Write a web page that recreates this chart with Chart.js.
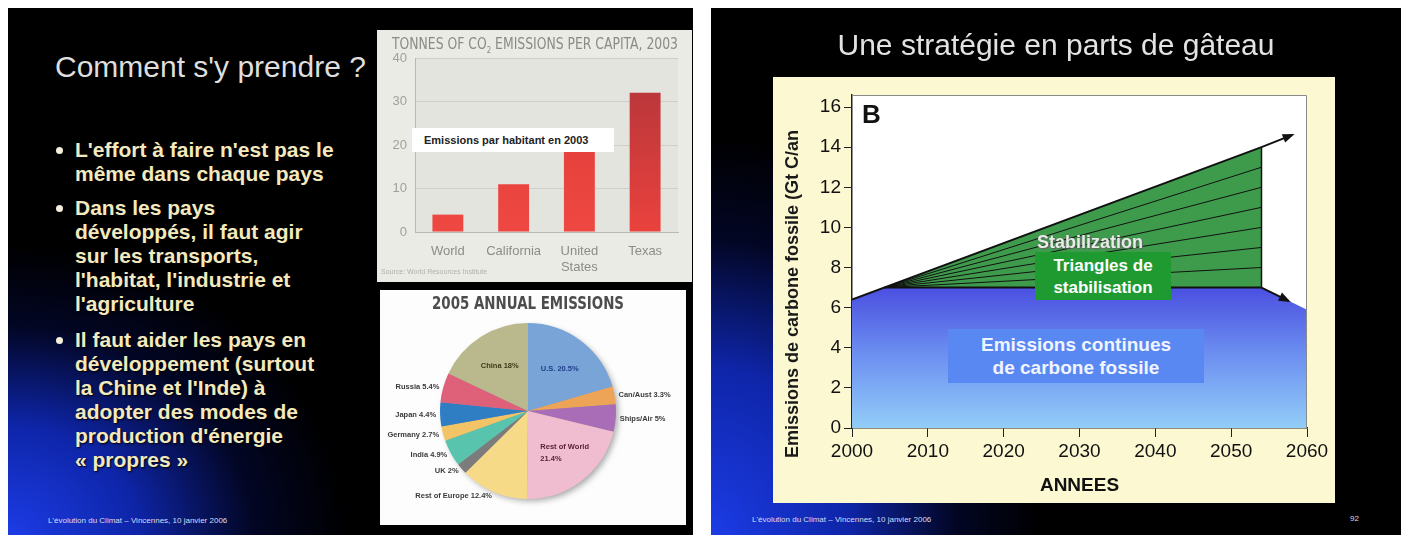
<!DOCTYPE html>
<html>
<head>
<meta charset="utf-8">
<script src="https://cdn.jsdelivr.net/npm/chart.js@4.4.1/dist/chart.umd.min.js"></script>
<style>
  body { margin: 0; width: 1409px; height: 535px; background: #fff; position: relative; overflow: hidden; font-family: "Liberation Sans", Arial, sans-serif; }
  .slide { position: absolute; top: 8px; height: 527px; background: #000; overflow: hidden; }
  #slide1 { left: 8px; width: 685px;
    background: radial-gradient(ellipse 340px 290px at 0% 100%, #1c3ce6 0%, #0e25a8 38%, rgba(4,10,60,0.6) 72%, rgba(0,0,0,0) 100%), #000; }
  #slide2 { left: 711px; width: 690px;
    background: radial-gradient(ellipse 330px 400px at 0% 100%, #1c3ce6 0%, #0e25a8 42%, rgba(4,10,60,0.6) 74%, rgba(0,0,0,0) 100%), #000; }
  .abs { position: absolute; }
  #title1 { left: 55px; top: 50px; font-size: 30px; color: #dedede; text-shadow: 2px 2px 2px #000; white-space: nowrap; }
  #title2 { left: 711px; width: 690px; top: 28px; text-align: center; font-size: 30px; color: #e2e2e2; text-shadow: 2px 2px 2px #000; white-space: nowrap; }
  .para { position: absolute; left: 75px; font-size: 21px; font-weight: bold; line-height: 24px; color: #f3e9bf; text-shadow: 1px 1px 2px #000; white-space: nowrap; }
  .para::before { content: ""; position: absolute; left: -19px; top: 9px; width: 7px; height: 7px; border-radius: 50%; background: #f4efdc; }
  .foot { position: absolute; font-size: 8px; color: #d8dcf0; white-space: nowrap; }
  #barPanel { left: 377px; top: 30px; width: 315px; height: 252px; background: #ebebe6; }
  #barTitle { left: 392px; top: 34px; font-family: "Liberation Sans Narrow", "DejaVu Sans Condensed", sans-serif; font-size: 16px; color: #8a8a86; white-space: nowrap; transform-origin: 0 0; }
  #barNote { left: 412px; top: 128px; width: 202px; height: 24px; background: #fff; font-size: 11px; font-weight: bold; color: #222; line-height: 24px; padding-left: 12px; box-sizing: border-box; white-space: nowrap; }
  #barSource { left: 381px; top: 268px; font-size: 7px; color: #b0b0ac; white-space: nowrap; }
  #piePanel { left: 380px; top: 290px; width: 306px; height: 235px; background: #fdfdfd; }
  #pieTitle { left: 432px; top: 293px; font-family: "DejaVu Sans Condensed", "Liberation Sans Narrow", sans-serif; font-weight: bold; font-size: 17px; color: #4c4c4c; white-space: nowrap; transform-origin: 0 0; }
  #linePanel { left: 773px; top: 77px; width: 562px; height: 426px; background: #fcf8d2; }
  #yTitle { left: 782px; top: 118px; height: 352px; writing-mode: vertical-rl; transform: rotate(180deg); font-size: 18px; font-weight: bold; color: #1a1a1a; white-space: nowrap; text-align: center; line-height: 20px; }
  #letterB { left: 862px; top: 99px; font-size: 26px; font-weight: bold; color: #111; }
  #stabEn { left: 1037px; top: 232px; font-size: 18px; font-weight: bold; color: #e6ece6; text-shadow: 0 0 1px #555, 1px 1px 1px #666; white-space: nowrap; }
  #greenBox { left: 1035px; top: 252px; width: 136px; height: 48px; background: #1f9a30; color: #fff; font-weight: bold; font-size: 17px; line-height: 22px; text-align: center; padding-top: 3px; box-sizing: border-box; white-space: nowrap; }
  #blueBox { left: 948px; top: 329px; width: 256px; height: 54px; background: #5a88f2; color: #f0f4ff; font-weight: bold; font-size: 19px; line-height: 23px; text-align: center; padding-top: 4px; box-sizing: border-box; white-space: nowrap; }
</style>
</head>
<body>
<div class="slide" id="slide1"></div>
<div class="slide" id="slide2"></div>

<div class="abs" id="title1">Comment s'y prendre ?</div>
<div class="para" style="top:138px">L'effort à faire n'est pas le<br>même dans chaque pays</div>
<div class="para" style="top:196px">Dans les pays<br>développés, il faut agir<br>sur les transports,<br>l'habitat, l'industrie et<br>l'agriculture</div>
<div class="para" style="top:328px">Il faut aider les pays en<br>développement (surtout<br>la Chine et l'Inde) à<br>adopter des modes de<br>production d'énergie<br>« propres »</div>
<div class="foot" style="left:48px;top:516px">L'évolution du Climat – Vincennes, 10 janvier 2006</div>

<div class="abs" id="barPanel"></div>
<canvas class="abs" id="barChart" width="315" height="252" style="left:377px;top:30px"></canvas>
<div class="abs" id="barTitle">TONNES OF CO<sub style="font-size:9px">2</sub> EMISSIONS PER CAPITA, 2003</div>
<div class="abs" id="barNote">Emissions par habitant en 2003</div>
<div class="abs" id="barSource">Source: World Resources Institute</div>

<div class="abs" id="piePanel"></div>
<div class="abs" id="pieTitle">2005 ANNUAL EMISSIONS</div>
<canvas class="abs" id="pieChart" width="306" height="235" style="left:380px;top:290px"></canvas>

<div class="abs" id="title2">Une stratégie en parts de gâteau</div>
<div class="abs" id="linePanel"></div>
<canvas class="abs" id="lineChart" width="562" height="426" style="left:773px;top:77px"></canvas>
<div class="abs" id="yTitle">Emissions de carbone fossile (Gt C/an</div>
<div class="abs" id="letterB">B</div>
<div class="abs" id="stabEn">Stabilization</div>
<div class="abs" id="greenBox">Triangles de<br>stabilisation</div>
<div class="abs" id="blueBox">Emissions continues<br>de carbone fossile</div>
<div class="foot" style="left:752px;top:515px">L'évolution du Climat – Vincennes, 10 janvier 2006</div>
<div class="foot" style="left:1350px;top:514px">92</div>

<script>
// --- bar chart: tonnes of CO2 per capita, 2003
const barLabels = ["World", "California", ["United", "States"], "Texas"];
const barValues = [4, 11, 19, 32];
const barTicks = [0, 10, 20, 30, 40];

// --- pie chart: 2005 annual emissions (%)
const pieLabels = ["U.S.", "Can/Aust", "Ships/Air", "Rest of World", "Rest of Europe", "UK", "India", "Germany", "Japan", "Russia", "China"];
const pieShares = [20.5, 3.3, 5, 21.4, 12.4, 2, 4.9, 2.7, 4.4, 5.4, 18];
const pieColors = ["#79a4d8", "#eea457", "#a96cb6", "#efbcd0", "#f6da88", "#7c7c7c", "#58c4ae", "#f3c466", "#2f7dc2", "#de6079", "#b9b98d"];
const pieInside = ["U.S.", "Rest of World", "China"];

// --- wedge chart: fossil carbon emissions (Gt C / yr)
const xTicks = [2000, 2010, 2020, 2030, 2040, 2050, 2060];
const yTicks = [0, 2, 4, 6, 8, 10, 12, 14, 16];
const bauYears = [2000, 2054, 2058];
const bauValues = [6.4, 14, 14.6];
const flatYears = [2000, 2004.3, 2054, 2060];
const flatValues = [6.4, 7, 7, 5.9];
const wedgeStartYear = 2004.3;
const wedgeEndYear = 2054;
const wedgeTops = [7, 8, 9, 10, 11, 12, 13];
const cutYears = [2054, 2057.5];
const cutValues = [7, 6.35];

const font = "'Liberation Sans', Arial, sans-serif";

// squeeze the two condensed panel titles to the reference widths
function fitWidth(id, w) {
  const el = document.getElementById(id);
  el.style.transform = "scaleX(" + (w / el.getBoundingClientRect().width) + ")";
}
fitWidth("barTitle", 286);
fitWidth("pieTitle", 192);

const plotBg = {
  id: "plotBg",
  beforeDraw(chart, args, opts) {
    const a = chart.chartArea, ctx = chart.ctx;
    ctx.save();
    ctx.fillStyle = opts.color;
    ctx.fillRect(a.left, a.top, a.right - a.left, a.bottom - a.top);
    ctx.restore();
  }
};

// bar chart
function barFill(c) {
  const ch = c.chart, a = ch.chartArea;
  if (!a) return "#e33c38";
  const g = ch.ctx.createLinearGradient(0, a.top, 0, a.bottom);
  if (c.dataIndex === 3) {
    g.addColorStop(0, "#b0343a");
    g.addColorStop(1, "#ea423d");
  } else {
    g.addColorStop(0, "#dc3936");
    g.addColorStop(1, "#ef4842");
  }
  return g;
}

new Chart(document.getElementById("barChart"), {
  type: "bar",
  data: {
    labels: barLabels,
    datasets: [{ data: barValues, backgroundColor: barFill, barPercentage: 0.94, categoryPercentage: 0.5 }]
  },
  options: {
    responsive: false,
    animation: false,
    layout: { padding: { top: 28, right: 14, left: 0, bottom: 0 } },
    plugins: { legend: { display: false }, tooltip: { enabled: false }, plotBg: { color: "#e4e4de" } },
    scales: {
      x: {
        grid: { display: false },
        border: { color: "#b8b8b4" },
        ticks: { color: "#8c8c88", font: { family: font, size: 13 }, padding: 4 },
        afterFit: s => { s.height = 50; }
      },
      y: {
        min: 0, max: 40,
        afterBuildTicks: s => { s.ticks = barTicks.map(v => ({ value: v })); },
        ticks: { color: "#a0a09c", font: { family: font, size: 13 }, padding: 8 },
        grid: { color: "#d0d0ca", drawTicks: false },
        border: { color: "#b8b8b4" },
        afterFit: s => { s.width = 38; }
      }
    }
  },
  plugins: [plotBg]
});

// pie chart
const pieShadow = {
  id: "pieShadow",
  beforeDatasetsDraw(chart) {
    const arc = chart.getDatasetMeta(0).data[0];
    if (!arc) return;
    const ctx = chart.ctx;
    ctx.save();
    ctx.shadowColor = "rgba(0,0,0,0.35)";
    ctx.shadowBlur = 6;
    ctx.shadowOffsetX = 3;
    ctx.shadowOffsetY = 3;
    ctx.fillStyle = "#999";
    ctx.beginPath();
    ctx.arc(arc.x, arc.y, arc.outerRadius - 1, 0, Math.PI * 2);
    ctx.fill();
    ctx.restore();
  }
};

const pieText = {
  id: "pieText",
  afterDatasetsDraw(chart) {
    const ctx = chart.ctx;
    const inkInside = { "U.S.": "#1f3f8a", "Rest of World": "#5a2035", "China": "#3a3a18" };
    chart.getDatasetMeta(0).data.forEach((arc, i) => {
      const name = pieLabels[i];
      const mid = (arc.startAngle + arc.endAngle) / 2;
      const inside = pieInside.includes(name);
      const r = inside ? arc.outerRadius * 0.6 : arc.outerRadius + 4;
      const x = arc.x + Math.cos(mid) * r;
      const y = arc.y + Math.sin(mid) * r;
      ctx.save();
      ctx.font = "bold 7.5px " + font;
      ctx.textBaseline = "middle";
      ctx.fillStyle = inside ? inkInside[name] : "#3a3a3a";
      if (inside) {
        if (name === "Rest of World") {
          ctx.textAlign = "left";
          ctx.fillText(name, x - 20, y - 6);
          ctx.fillText(pieShares[i] + "%", x - 20, y + 6);
        } else {
          ctx.textAlign = "center";
          ctx.fillText(name + " " + pieShares[i] + "%", x, y);
        }
      } else {
        ctx.textAlign = Math.cos(mid) < 0 ? "right" : "left";
        ctx.fillText(name + " " + pieShares[i] + "%", x, y);
      }
      ctx.restore();
    });
  }
};

new Chart(document.getElementById("pieChart"), {
  type: "pie",
  data: {
    labels: pieLabels,
    datasets: [{ data: pieShares, backgroundColor: pieColors, borderWidth: 0 }]
  },
  options: {
    responsive: false,
    animation: false,
    layout: { padding: { left: 60, right: 70, top: 33, bottom: 26 } },
    plugins: { legend: { display: false }, tooltip: { enabled: false } }
  },
  plugins: [pieShadow, pieText]
});

// wedge chart
const pts = (xs, ys) => xs.map((x, i) => ({ x: x, y: ys[i] }));

function blueFill(c) {
  const ch = c.chart, y = ch.scales && ch.scales.y;
  if (!ch.chartArea || !y) return "#6a8af0";
  const g = ch.ctx.createLinearGradient(0, y.getPixelForValue(7), 0, y.getPixelForValue(0));
  g.addColorStop(0, "#4b4fe0");
  g.addColorStop(0.45, "#6a8cf0");
  g.addColorStop(1, "#92cdf8");
  return g;
}

const lineStyle = { showLine: true, pointRadius: 0, fill: false, borderColor: "#111" };

const datasets = [
  { data: pts(flatYears, flatValues), showLine: true, pointRadius: 0, borderWidth: 0, fill: "origin", backgroundColor: blueFill },
  { data: pts(bauYears, bauValues).filter(p => p.x <= wedgeEndYear), showLine: true, pointRadius: 0, borderWidth: 0, fill: "origin", backgroundColor: "#3f9b4c" }
];
wedgeTops.forEach((top, k) => {
  datasets.push(Object.assign({}, lineStyle, {
    data: [{ x: wedgeStartYear, y: 7 }, { x: wedgeEndYear, y: top }],
    borderWidth: k === 0 ? 2 : 1
  }));
});
datasets.push(Object.assign({}, lineStyle, { data: [{ x: wedgeEndYear, y: 7 }, { x: wedgeEndYear, y: bauValues[1] }], borderWidth: 1.5 }));
datasets.push(Object.assign({}, lineStyle, { data: pts(bauYears, bauValues), borderWidth: 2, arrow: true }));
datasets.push(Object.assign({}, lineStyle, { data: pts(cutYears, cutValues), borderWidth: 2, arrow: true }));

const arrowHeads = {
  id: "arrowHeads",
  afterDatasetsDraw(chart) {
    const ctx = chart.ctx;
    chart.data.datasets.forEach((ds, i) => {
      if (!ds.arrow) return;
      const p = chart.getDatasetMeta(i).data;
      const a = p[p.length - 2], b = p[p.length - 1];
      const ang = Math.atan2(b.y - a.y, b.x - a.x);
      ctx.save();
      ctx.translate(b.x, b.y);
      ctx.rotate(ang);
      ctx.beginPath();
      ctx.moveTo(3, 0);
      ctx.lineTo(-9, -4.5);
      ctx.lineTo(-9, 4.5);
      ctx.closePath();
      ctx.fillStyle = "#111";
      ctx.fill();
      ctx.restore();
    });
  }
};

const frame = {
  id: "frame",
  afterDatasetsDraw(chart) {
    const a = chart.chartArea, ctx = chart.ctx;
    ctx.save();
    ctx.strokeStyle = "#8a8a8a";
    ctx.lineWidth = 1;
    ctx.beginPath();
    ctx.moveTo(a.left, a.top + 0.5);
    ctx.lineTo(a.right - 0.5, a.top + 0.5);
    ctx.lineTo(a.right - 0.5, a.bottom);
    ctx.stroke();
    ctx.restore();
  }
};

new Chart(document.getElementById("lineChart"), {
  type: "scatter",
  data: { datasets: datasets },
  options: {
    responsive: false,
    animation: false,
    layout: { padding: { top: 18, right: 28, left: 0, bottom: 0 } },
    plugins: {
      legend: { display: false },
      tooltip: { enabled: false },
      filler: { drawTime: "beforeDatasetsDraw" },
      plotBg: { color: "#ffffff" }
    },
    scales: {
      x: {
        type: "linear", min: 2000, max: 2060,
        afterBuildTicks: s => { s.ticks = xTicks.map(v => ({ value: v })); },
        ticks: { color: "#111", font: { family: font, size: 19 }, padding: 3, callback: v => String(v) },
        grid: { drawOnChartArea: false, tickLength: 9, color: "#222" },
        border: { color: "#222", width: 1.5 },
        title: { display: true, text: "ANNEES", color: "#111", font: { family: font, size: 19, weight: "bold" }, padding: { top: 2, bottom: 6 } },
        afterFit: s => { s.height = 75; }
      },
      y: {
        type: "linear", min: 0, max: 16.6,
        afterBuildTicks: s => { s.ticks = yTicks.map(v => ({ value: v })); },
        ticks: { color: "#111", font: { family: font, size: 19 }, padding: 3 },
        grid: { drawOnChartArea: false, tickLength: 8, color: "#222" },
        border: { color: "#222", width: 1.5 },
        afterFit: s => { s.width = 79; }
      }
    }
  },
  plugins: [plotBg, arrowHeads, frame]
});
</script>
</body>
</html>
